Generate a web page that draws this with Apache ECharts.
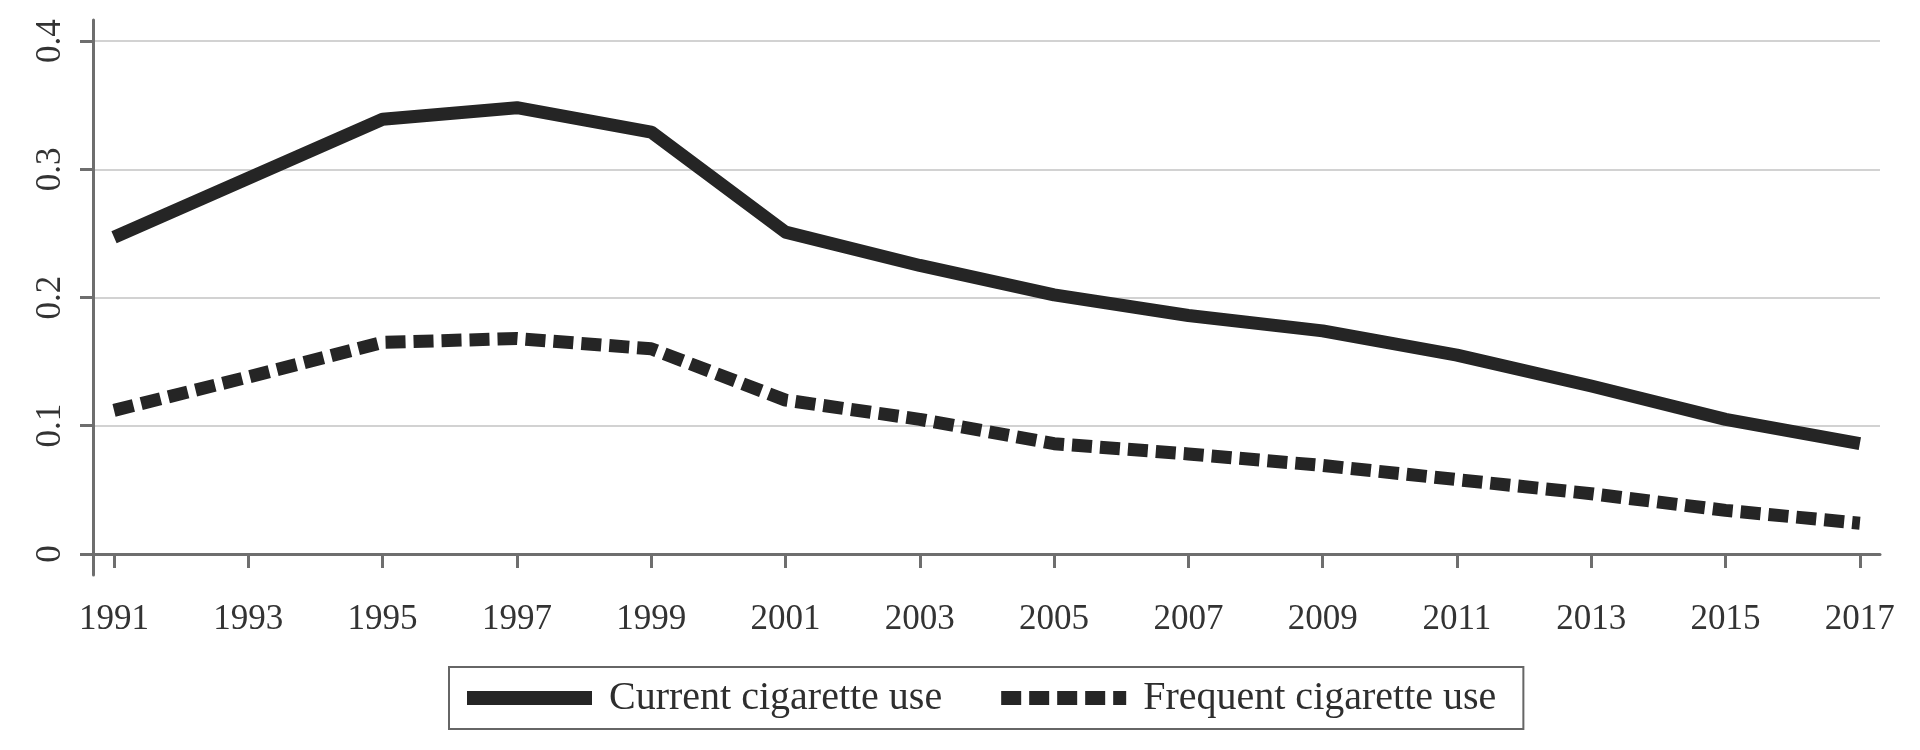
<!DOCTYPE html>
<html>
<head>
<meta charset="utf-8">
<script src="https://cdn.jsdelivr.net/npm/echarts@6/dist/echarts.min.js"></script>
<style>
html,body{margin:0;padding:0;background:#fff;}
#chart{width:1920px;height:750px;}
</style>
</head>
<body>
<div id="chart"></div>
<script>
const years = [1991,1993,1995,1997,1999,2001,2003,2005,2007,2009,2011,2013,2015,2017];
const currentUse = [0.247,0.293,0.339,0.348,0.329,0.251,0.225,0.202,0.186,0.174,0.155,0.131,0.105,0.086];
const frequentUse = [0.112,0.138,0.165,0.168,0.160,0.120,0.105,0.086,0.078,0.069,0.058,0.047,0.034,0.024];
const xTicks = [1991,1993,1995,1997,1999,2001,2003,2005,2007,2009,2011,2013,2015,2017];
const yTicks = [0,0.1,0.2,0.3,0.4];
const seriesNames = ['Current cigarette use','Frequent cigarette use'];

const font = 'Liberation Serif';
const chart = echarts.init(document.getElementById('chart'));
chart.setOption({
  backgroundColor:'#fff',
  animation:false,
  grid:{left:93,right:40,top:20,bottom:175,containLabel:false},
  xAxis:{
    type:'value',min:1990.687,max:2017.3,
    axisLine:{show:true,lineStyle:{color:'#6e6e6e',width:3}},
    axisTick:{show:true,length:14,customValues:xTicks,lineStyle:{color:'#6e6e6e',width:3}},
    axisLabel:{customValues:xTicks,formatter:v=>String(v),margin:27,fontFamily:font,fontSize:35,color:'#333'},
    splitLine:{show:false}
  },
  yAxis:{
    type:'value',min:-0.0164,max:0.4164,
    axisLine:{show:true,lineStyle:{color:'#6e6e6e',width:3}},
    axisTick:{show:true,length:13,customValues:yTicks,lineStyle:{color:'#6e6e6e',width:3}},
    axisLabel:{customValues:yTicks,formatter:v=>String(v),rotate:90,margin:25,fontFamily:font,fontSize:35,color:'#333'},
    splitLine:{show:true,lineStyle:{color:'#d2d2d2',width:2}}
  },
  legend:{
    left:449,top:667,orient:'horizontal',
    padding:[11,27,11,11],
    borderColor:'#666',borderWidth:2,
    itemWidth:125,itemHeight:14,itemGap:52,
    itemStyle:{opacity:0},
    lineStyle:{width:14,cap:'butt'},
    textStyle:{fontFamily:font,fontSize:40,color:'#2e2e2e',padding:[0,0,0,12]},
    data:seriesNames
  },
  series:[
    {name:seriesNames[0],type:'line',showSymbol:false,symbol:'none',
     data:years.map((y,i)=>[y,currentUse[i]]),
     lineStyle:{color:'#252525',width:13,type:'solid',join:'round'},
     itemStyle:{color:'#252525'}},
    {name:seriesNames[1],type:'line',showSymbol:false,symbol:'none',
     data:years.map((y,i)=>[y,frequentUse[i]]),
     lineStyle:{color:'#252525',width:13,type:[20,8],cap:'butt'},
     itemStyle:{color:'#252525'}}
  ]
});
</script>
</body>
</html>
